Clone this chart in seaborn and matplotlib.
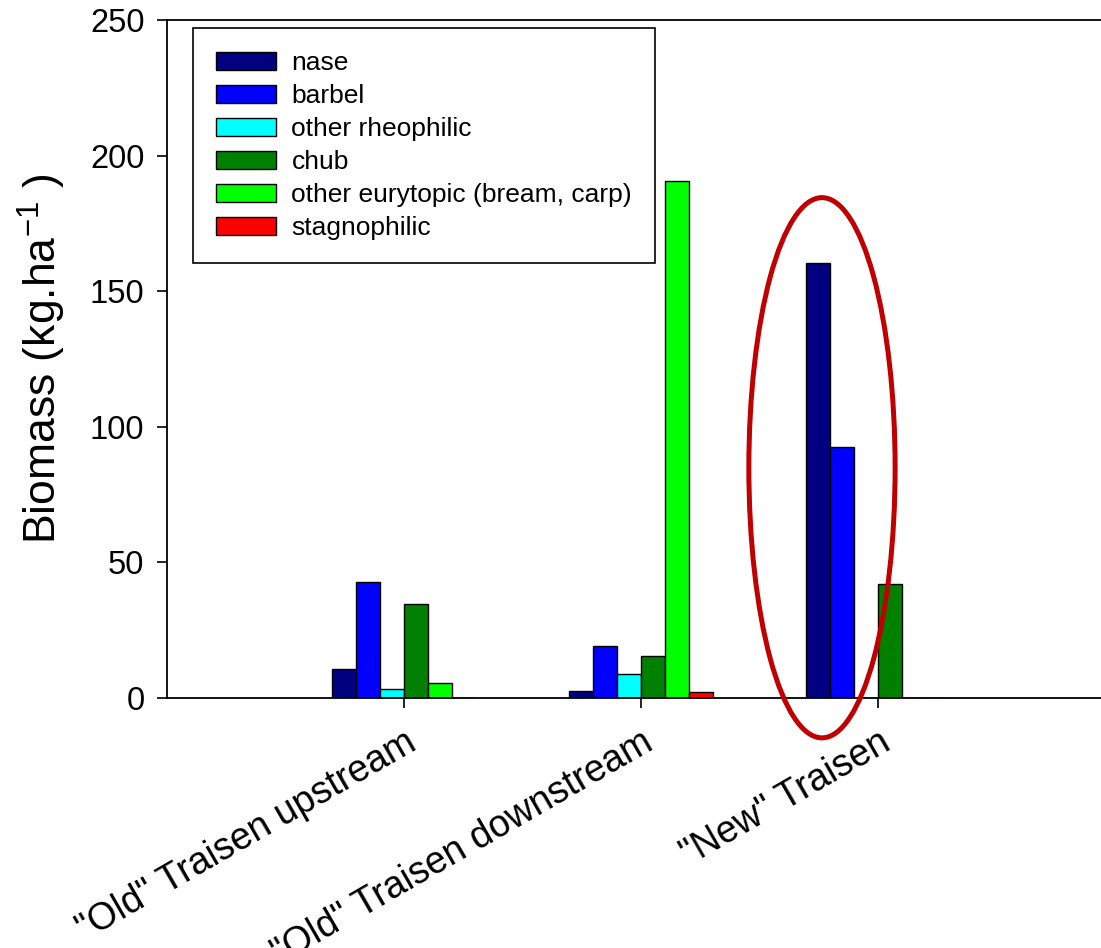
import matplotlib
matplotlib.use("Agg")
import matplotlib.pyplot as plt
from matplotlib.patches import Ellipse
import seaborn as sns
import pandas as pd

sites = ['"Old" Traisen upstream', '"Old" Traisen downstream', '"New" Traisen']
groups = ["nase", "barbel", "other rheophilic", "chub",
          "other eurytopic (bream, carp)", "stagnophilic"]
nase = [10.7, 2.4, 160.5]
barbel = [42.9, 19.0, 92.4]
other_rheophilic = [3.5, 8.9, 0.0]
chub = [34.8, 15.6, 42.0]
other_eurytopic = [5.4, 190.7, 0.0]
stagnophilic = [0.0, 2.3, 0.0]
colors = ["#000080", "#0000ff", "#00ffff", "#008000", "#00ff00", "#ff0000"]

series = [nase, barbel, other_rheophilic, chub, other_eurytopic, stagnophilic]
rows = []
for g, vals in zip(groups, series):
    for s, v in zip(sites, vals):
        rows.append({"site": s, "group": g, "biomass": v})
df = pd.DataFrame(rows)

sns.set_style("ticks")
plt.rcParams["font.family"] = ["Liberation Sans", "DejaVu Sans"]
plt.rcParams["mathtext.fontset"] = "custom"
plt.rcParams["mathtext.rm"] = "Liberation Sans"
plt.rcParams["mathtext.it"] = "Liberation Sans"
plt.rcParams["text.color"] = "black"
plt.rcParams["axes.labelcolor"] = "black"
plt.rcParams["xtick.color"] = "black"
plt.rcParams["ytick.color"] = "black"

fig = plt.figure(figsize=(11.01, 9.48), dpi=100)
ax = fig.add_axes([167 / 1101, 1 - 698 / 948, 1 - 167 / 1101, (698 - 20) / 948])

sns.barplot(data=df, x="site", y="biomass", hue="group", order=sites,
            hue_order=groups, palette=colors, width=0.61, gap=0,
            edgecolor="black", linewidth=1.0, saturation=1, ax=ax)

ax.set_xlim(-1.0, 2.94)
ax.set_ylim(0, 250)
ax.set_yticks([0, 50, 100, 150, 200, 250])
ax.set_xlabel("")
ax.set_ylabel("Biomass (kg.ha$^{-1}$ )", fontsize=32, color="black")
ax.yaxis.set_label_coords(-0.106, 0.5)

for side in ["left", "top", "bottom"]:
    ax.spines[side].set_visible(True)
    ax.spines[side].set_color("black")
    ax.spines[side].set_linewidth(1.3)
ax.spines["right"].set_visible(False)

ax.tick_params(axis="y", direction="out", length=7.2, width=1.2,
               labelsize=23.5, pad=9, colors="black")
ax.tick_params(axis="x", direction="out", length=7.2, width=1.2,
               labelsize=27, pad=12, colors="black")
for lab in ax.get_xticklabels():
    lab.set_rotation(30)
    lab.set_ha("right")
    lab.set_va("top")
    lab.set_rotation_mode("anchor")

handles, labels = ax.get_legend_handles_labels()
leg = ax.legend(handles, labels, loc="upper left",
                bbox_to_anchor=(0.0278, 0.988), borderaxespad=0,
                fontsize=19, frameon=True, fancybox=False, framealpha=1,
                handlelength=2.25, handleheight=0.66, handletextpad=0.6,
                labelspacing=0.34, borderpad=0.88, labelcolor="black")
leg.get_frame().set_edgecolor("black")
leg.get_frame().set_linewidth(1.2)

ax.add_patch(Ellipse((1.763, 84.9), 0.617, 199.2, fill=False,
                     edgecolor="#c00000", linewidth=3.6, clip_on=False,
                     zorder=5))

fig.savefig("out.png", dpi=100)
